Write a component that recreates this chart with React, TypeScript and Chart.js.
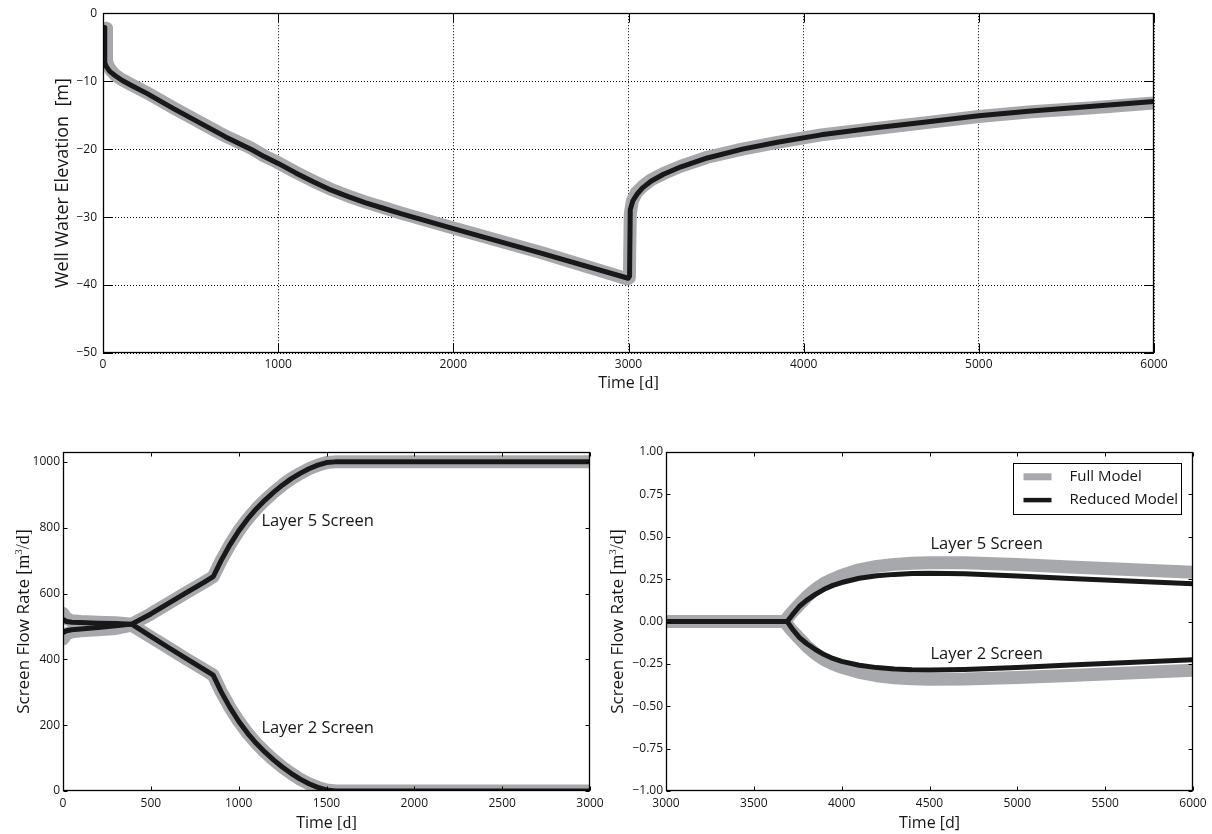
import React, { useEffect, useRef } from 'react';
import Chart from 'chart.js/auto';

const GRAY = '#a7a8ac';
const BLACK = '#181818';
const TEXT = '#161616';
const SANS = '"Open Sans", "DejaVu Sans", sans-serif';
const SERIF = '"Liberation Serif", "DejaVu Serif", serif';

// ---- Well water elevation [m] vs time [d] ----
const WELL_FULL_T = [18, 20, 30, 45, 70, 110, 160, 250, 400, 550, 700, 850, 920, 1000, 1100, 1200, 1300, 1400, 1500, 1600, 1700, 1850, 2000, 2500, 2995, 3005, 3010, 3022, 3045, 3080, 3130, 3200, 3300, 3450, 3650, 3850, 4100, 4400, 4700, 5000, 5300, 5650, 6000];
const WELL_FULL_V = [-2.2, -7.0, -7.8, -8.4, -9.1, -9.8, -10.5, -11.7, -13.9, -16.0, -18.1, -19.9, -21.0, -22.0, -23.4, -24.7, -25.9, -26.9, -27.8, -28.6, -29.4, -30.5, -31.6, -35.2, -39.1, -38.9, -29.6, -27.6, -26.4, -25.5, -24.5, -23.6, -22.5, -21.2, -20.0, -19.0, -17.9, -17.0, -16.1, -15.2, -14.5, -13.9, -13.2];
const WELL_RED_T = [8, 10, 20, 40, 70, 110, 160, 250, 400, 550, 700, 850, 920, 1000, 1100, 1200, 1300, 1400, 1500, 1600, 1700, 1850, 2000, 2500, 2998, 3006, 3010, 3025, 3050, 3080, 3130, 3200, 3300, 3450, 3650, 3850, 4100, 4400, 4700, 5000, 5300, 5650, 6000];
const WELL_RED_V = [-2.1, -7.3, -7.9, -8.6, -9.2, -9.9, -10.6, -11.8, -14.0, -16.1, -18.2, -20.1, -21.1, -22.1, -23.5, -24.8, -26.0, -27.0, -27.9, -28.7, -29.5, -30.6, -31.7, -35.3, -39.0, -38.7, -28.9, -27.6, -26.6, -25.7, -24.7, -23.7, -22.6, -21.3, -20.0, -19.0, -17.9, -16.9, -16.0, -15.1, -14.4, -13.7, -13.0];
const WELL_X_TICKS = [0, 1000, 2000, 3000, 4000, 5000, 6000];
const WELL_Y_TICKS = [-50, -40, -30, -20, -10, 0];

// ---- Screen flow rates [m3/d], 0-3000 d ----
const EARLY_T = [0, 20, 50, 100, 200, 300, 391, 500, 600, 700, 800, 855, 900, 950, 1000, 1050, 1100, 1150, 1200, 1250, 1300, 1350, 1400, 1450, 1500, 1550, 3000];
const EARLY_L5_FULL = [540, 524, 517, 515, 513, 511, 507, 538, 570, 602, 633, 651, 700, 748, 790, 826, 857, 884, 908, 930, 949, 965, 979, 990, 998, 1000, 1000];
const EARLY_L5_RED = [521, 515, 513, 512, 510, 509, 507, 538, 570, 602, 633, 651, 700, 748, 790, 826, 857, 884, 908, 930, 949, 965, 979, 990, 998, 1000, 1000];
const EARLY_L2_FULL = [462, 477, 484, 487, 490, 494, 504, 468, 435, 402, 370, 352, 302, 254, 212, 176, 145, 118, 94, 72, 53, 36, 22, 11, 3, 0, 0];
const EARLY_L2_RED = [481, 487, 490, 492, 497, 502, 507, 470, 436, 403, 370, 352, 302, 254, 212, 176, 145, 118, 94, 72, 53, 36, 22, 11, 3, 0, 0];
const EARLY_X_TICKS = [0, 500, 1000, 1500, 2000, 2500, 3000];
const EARLY_Y_TICKS = [0, 200, 400, 600, 800, 1000];

// ---- Screen flow rates [m3/d], 3000-6000 d ----
const LATE_FULL_T = [3000, 3675, 3710, 3750, 3800, 3850, 3900, 3950, 4000, 4100, 4200, 4300, 4400, 4500, 4700, 5000, 5300, 5600, 6000];
const LATE_L5_FULL = [0, 0, 0.045, 0.09, 0.145, 0.19, 0.225, 0.25, 0.272, 0.305, 0.325, 0.337, 0.344, 0.347, 0.346, 0.336, 0.322, 0.308, 0.29];
const LATE_L2_FULL = [0, 0, -0.045, -0.09, -0.145, -0.19, -0.225, -0.25, -0.27, -0.3, -0.32, -0.332, -0.338, -0.34, -0.339, -0.33, -0.318, -0.305, -0.288];
const LATE_RED_T = [3000, 3690, 3720, 3760, 3800, 3850, 3900, 3950, 4000, 4100, 4200, 4300, 4400, 4500, 4700, 5000, 5300, 5600, 6000];
const LATE_L5_RED = [0, 0, 0.04, 0.09, 0.125, 0.16, 0.19, 0.213, 0.23, 0.255, 0.27, 0.278, 0.283, 0.285, 0.282, 0.268, 0.254, 0.241, 0.222];
const LATE_L2_RED = [0, 0, -0.045, -0.095, -0.13, -0.165, -0.195, -0.218, -0.235, -0.258, -0.272, -0.28, -0.285, -0.286, -0.283, -0.272, -0.257, -0.243, -0.226];
const LATE_X_TICKS = [3000, 3500, 4000, 4500, 5000, 5500, 6000];
const LATE_Y_TICKS = [-1, -0.75, -0.5, -0.25, 0, 0.25, 0.5, 0.75, 1];

const LEGEND_LABELS = ['Full Model', 'Reduced Model'];
const LAYER_LABELS = ['Layer 5 Screen', 'Layer 2 Screen'];

type Seg = { text: string; serif?: boolean; sup?: boolean };
type Area = { left: number; top: number; right: number; bottom: number };
type Series = { t: number[]; v: number[]; color: string; width: number; order: number; label?: string };
type Note = { x: number; y: number; text: string };
type AxisSpec = { min: number; max: number; ticks: number[]; fmt: (v: number) => string; pad: number };

interface PanelSpec {
  id: string;
  left: number; top: number; width: number; height: number;
  area: Area;
  series: Series[];
  x: AxisSpec; y: AxisSpec;
  grid: boolean;
  tickLen: number;
  xTitle: Seg[]; yTitle: Seg[];
  xTitleOffset: number; yTitleX: number; yTitleSize: number;
  notes: Note[];
  legend?: { right: number; top: number; w: number; h: number };
}

const minus = (s: string) => s.replace('-', '\u2212');
const intFmt = (v: number) => minus(String(v));
const fixed2 = (v: number) => minus(v.toFixed(2));

const full = (t: number[], v: number[], label?: string): Series => ({ t, v, color: GRAY, width: 13, order: 2, label });
const reduced = (t: number[], v: number[], label?: string): Series => ({ t, v, color: BLACK, width: 5, order: 1, label });

const TIME_SERIF: Seg[] = [{ text: 'Time ' }, { text: '[d]', serif: true }];
const FLOW_TITLE: Seg[] = [
  { text: 'Screen Flow Rate ' },
  { text: '[m', serif: true },
  { text: '3', serif: true, sup: true },
  { text: '/d]', serif: true },
];

const PANELS: PanelSpec[] = [
  {
    id: 'well',
    left: 0, top: 0, width: 1212, height: 400,
    area: { left: 103, top: 13, right: 1154, bottom: 353 },
    series: [full(WELL_FULL_T, WELL_FULL_V), reduced(WELL_RED_T, WELL_RED_V)],
    x: { min: 0, max: 6000, ticks: WELL_X_TICKS, fmt: intFmt, pad: 4 },
    y: { min: -50, max: 0, ticks: WELL_Y_TICKS, fmt: intFmt, pad: 6 },
    grid: true,
    tickLen: 9,
    xTitle: TIME_SERIF,
    yTitle: [{ text: 'Well Water Elevation  [m]' }],
    xTitleOffset: 35,
    yTitleX: 68,
    yTitleSize: 18,
    notes: [],
  },
  {
    id: 'early',
    left: 0, top: 420, width: 612, height: 414,
    area: { left: 63, top: 32, right: 590, bottom: 371 },
    series: [
      full(EARLY_T, EARLY_L5_FULL), full(EARLY_T, EARLY_L2_FULL),
      reduced(EARLY_T, EARLY_L5_RED), reduced(EARLY_T, EARLY_L2_RED),
    ],
    x: { min: 0, max: 3000, ticks: EARLY_X_TICKS, fmt: intFmt, pad: 5 },
    y: { min: 0, max: 1030, ticks: EARLY_Y_TICKS, fmt: intFmt, pad: 3 },
    grid: false,
    tickLen: 4,
    xTitle: TIME_SERIF,
    yTitle: FLOW_TITLE,
    xTitleOffset: 37,
    yTitleX: 29,
    yTitleSize: 17,
    notes: [
      { x: 1130, y: 818, text: LAYER_LABELS[0] },
      { x: 1130, y: 192, text: LAYER_LABELS[1] },
    ],
  },
  {
    id: 'late',
    left: 600, top: 420, width: 612, height: 414,
    area: { left: 66, top: 32, right: 593, bottom: 371 },
    series: [
      full(LATE_FULL_T, LATE_L5_FULL, LEGEND_LABELS[0]), full(LATE_FULL_T, LATE_L2_FULL),
      reduced(LATE_RED_T, LATE_L5_RED, LEGEND_LABELS[1]), reduced(LATE_RED_T, LATE_L2_RED),
    ],
    x: { min: 3000, max: 6000, ticks: LATE_X_TICKS, fmt: intFmt, pad: 5 },
    y: { min: -1, max: 1, ticks: LATE_Y_TICKS, fmt: fixed2, pad: 3 },
    grid: false,
    tickLen: 4,
    xTitle: [{ text: 'Time [d]' }],
    yTitle: FLOW_TITLE,
    xTitleOffset: 37,
    yTitleX: 23,
    yTitleSize: 17,
    notes: [
      { x: 4505, y: 0.453, text: LAYER_LABELS[0] },
      { x: 4505, y: -0.191, text: LAYER_LABELS[1] },
    ],
    legend: { right: 12, top: 11, w: 168, h: 51 },
  },
];

function segFont(s: Seg, size: number) {
  if (s.sup) return `${Math.round(size * 0.62)}px ${SERIF}`;
  if (s.serif) return `${size + 1}px ${SERIF}`;
  return `${size}px ${SANS}`;
}

// Draws a run of mixed-font text centred on (0, 0) of the current transform, baseline at y = 0.
function drawSegs(ctx: CanvasRenderingContext2D, segs: Seg[], size: number) {
  const widths = segs.map((s) => {
    ctx.font = segFont(s, size);
    return ctx.measureText(s.text).width;
  });
  const total = widths.reduce((a, b) => a + b, 0);
  let x = -total / 2;
  ctx.textAlign = 'left';
  ctx.textBaseline = 'alphabetic';
  segs.forEach((s, i) => {
    ctx.font = segFont(s, size);
    ctx.fillText(s.text, x, s.sup ? -size * 0.42 : 0);
    x += widths[i];
  });
}

function strokeLine(ctx: CanvasRenderingContext2D, x1: number, y1: number, x2: number, y2: number) {
  ctx.beginPath();
  ctx.moveTo(x1, y1);
  ctx.lineTo(x2, y2);
  ctx.stroke();
}

function decorations(spec: PanelSpec) {
  return {
    id: 'decorations',
    afterDatasetsDraw(chart: any) {
      const { ctx, chartArea: a, scales } = chart;
      const xs = scales.x;
      const ys = scales.y;
      const L = Math.round(a.left) + 0.5;
      const R = Math.round(a.right) - 0.5;
      const T = Math.round(a.top) + 0.5;
      const B = Math.round(a.bottom) - 0.5;
      ctx.save();
      ctx.strokeStyle = '#000';
      ctx.lineWidth = 1;
      ctx.setLineDash([]);
      const len = spec.tickLen;
      for (const v of spec.x.ticks) {
        const px = Math.round(xs.getPixelForValue(v)) + 0.5;
        strokeLine(ctx, px, B, px, B - len);
        strokeLine(ctx, px, T, px, T + len);
      }
      for (const v of spec.y.ticks) {
        const py = Math.round(ys.getPixelForValue(v)) + 0.5;
        strokeLine(ctx, L, py, L + len, py);
        strokeLine(ctx, R, py, R - len, py);
      }
      ctx.lineWidth = 1.3;
      ctx.strokeRect(L, T, R - L, B - T);

      // in-plot layer labels
      ctx.fillStyle = TEXT;
      ctx.font = `16.5px ${SANS}`;
      ctx.textAlign = 'left';
      ctx.textBaseline = 'middle';
      for (const n of spec.notes) {
        ctx.fillText(n.text, xs.getPixelForValue(n.x), ys.getPixelForValue(n.y));
      }

      // legend box
      if (spec.legend) {
        const lg = spec.legend;
        const bx = Math.round(a.right - lg.right - lg.w) + 0.5;
        const by = Math.round(a.top + lg.top) + 0.5;
        ctx.fillStyle = '#fff';
        ctx.fillRect(bx, by, lg.w, lg.h);
        ctx.strokeStyle = '#000';
        ctx.lineWidth = 1;
        ctx.strokeRect(bx, by, lg.w, lg.h);
        const items = spec.series.filter((s) => s.label);
        items.forEach((s, i) => {
          const ry = by + 13.3 + i * 23.3;
          ctx.strokeStyle = s.color;
          ctx.lineWidth = s.color === GRAY ? 7 : 4.5;
          ctx.lineCap = 'butt';
          strokeLine(ctx, bx + 10, ry, bx + 38, ry);
          ctx.fillStyle = TEXT;
          ctx.font = `15px ${SANS}`;
          ctx.textAlign = 'left';
          ctx.textBaseline = 'middle';
          ctx.fillText(s.label as string, bx + 56, ry);
        });
      }
      ctx.restore();
    },
    afterDraw(chart: any) {
      const { ctx, chartArea: a } = chart;
      ctx.save();
      ctx.fillStyle = TEXT;
      ctx.translate((a.left + a.right) / 2, a.bottom + spec.xTitleOffset);
      drawSegs(ctx, spec.xTitle, 16);
      ctx.restore();
      ctx.save();
      ctx.fillStyle = TEXT;
      ctx.translate(spec.yTitleX, (a.top + a.bottom) / 2);
      ctx.rotate(-Math.PI / 2);
      drawSegs(ctx, spec.yTitle, spec.yTitleSize);
      ctx.restore();
    },
  };
}

function buildConfig(spec: PanelSpec): any {
  const datasets = spec.series.map((s) => ({
    label: s.label ?? '',
    data: s.t.map((x, i) => ({ x, y: s.v[i] })),
    borderColor: s.color,
    backgroundColor: s.color,
    borderWidth: s.width,
    borderJoinStyle: 'round',
    borderCapStyle: 'round',
    pointRadius: 0,
    fill: false,
    tension: 0,
    clip: 0,
    order: s.order,
  }));
  const axis = (ax: AxisSpec, isX: boolean) => ({
    type: 'linear',
    position: isX ? 'bottom' : 'left',
    min: ax.min,
    max: ax.max,
    afterBuildTicks: (scale: any) => {
      scale.ticks = ax.ticks.map((value) => ({ value }));
    },
    afterFit: (scale: any) => {
      if (isX) scale.height = spec.height - spec.area.bottom;
      else scale.width = spec.area.left;
    },
    ticks: {
      callback: (v: number) => ax.fmt(v),
      font: { family: SANS, size: 12 },
      color: TEXT,
      padding: ax.pad,
      maxRotation: 0,
      autoSkip: false,
    },
    grid: {
      display: spec.grid,
      color: '#000',
      lineWidth: 1,
      drawTicks: false,
    },
    border: { display: false, dash: [1, 2] },
  });
  return {
    type: 'line',
    data: { datasets },
    options: {
      responsive: false,
      animation: false,
      devicePixelRatio: 1,
      events: [],
      layout: {
        padding: { top: spec.area.top, right: spec.width - spec.area.right, left: 0, bottom: 0 },
      },
      plugins: { legend: { display: false }, tooltip: { enabled: false }, title: { display: false } },
      scales: { x: axis(spec.x, true), y: axis(spec.y, false) },
    },
    plugins: [decorations(spec)],
  };
}

function Panel({ spec }: { spec: PanelSpec }) {
  const ref = useRef<HTMLCanvasElement>(null);
  useEffect(() => {
    if (!ref.current) return;
    const chart = new Chart(ref.current, buildConfig(spec));
    return () => chart.destroy();
  }, [spec]);
  return (
    <canvas
      ref={ref}
      width={spec.width}
      height={spec.height}
      style={{ position: 'absolute', left: spec.left, top: spec.top, width: spec.width, height: spec.height }}
    />
  );
}

export default function App() {
  return (
    <div style={{ position: 'fixed', left: 0, top: 0, width: 1212, height: 834, background: '#fff', overflow: 'hidden' }}>
      {PANELS.map((p) => (
        <Panel key={p.id} spec={p} />
      ))}
    </div>
  );
}
